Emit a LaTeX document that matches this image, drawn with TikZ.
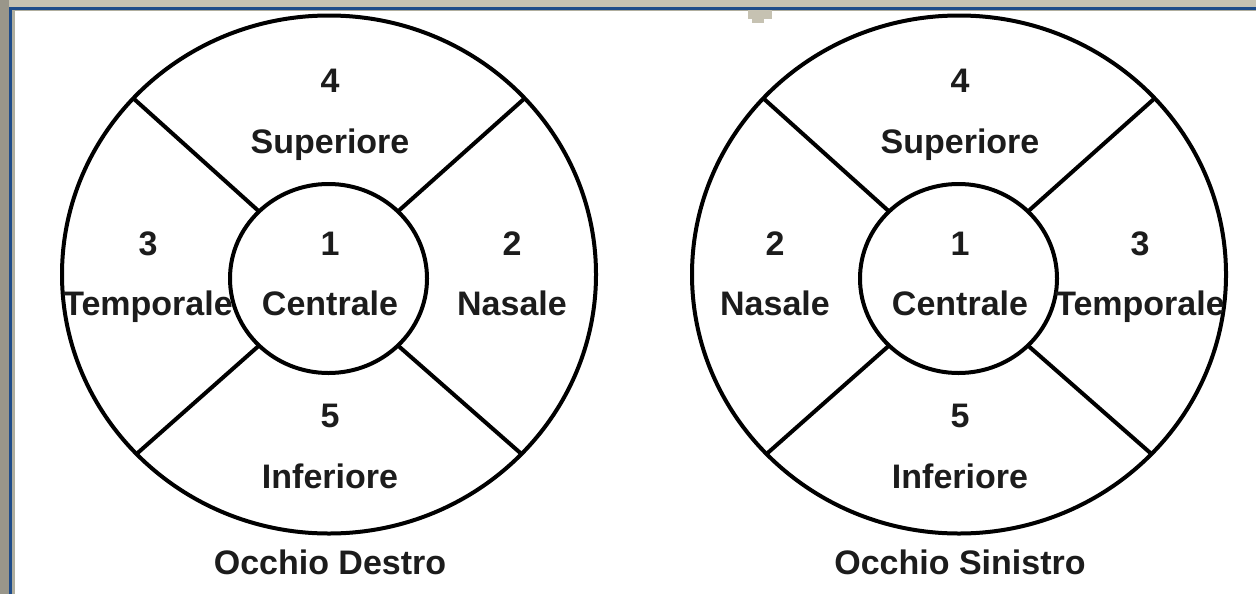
\documentclass[tikz,border=0pt]{standalone}
\usepackage{fontspec}
\setmainfont{Liberation Sans}
\usetikzlibrary{shapes.geometric}
\definecolor{topgray}{HTML}{C6C2B2}
\definecolor{leftgray}{HTML}{99968A}
\definecolor{frameblue}{HTML}{1E4C8A}
\definecolor{thingray}{HTML}{B0AE9E}
\definecolor{inkgray}{HTML}{1C1C1C}
\begin{document}
\begin{tikzpicture}[x=0.5pt,y=-0.5pt,
  ring/.style={draw=black, line width=2pt, ellipse, inner sep=0pt, outer sep=0pt},
  lab/.style={font=\bfseries\fontsize{17}{20}\selectfont, text=inkgray, anchor=base, inner sep=0pt},
  divider/.style={line width=2pt, draw=black}]
\useasboundingbox (0,0) rectangle (1256,594);
\fill[white] (0,0) rectangle (1256,594);
% window frame
\fill[topgray] (0,0) rectangle (1256,7);
\fill[leftgray] (0,0) rectangle (9,594);
\fill[frameblue] (9,7) rectangle (1256,9.5);
\fill[frameblue] (9,7) rectangle (12,594);
\fill[thingray] (12,9.5) rectangle (1256,11);
\fill[thingray] (12,9.5) rectangle (14.5,594);
\fill[topgray] (748,10) rectangle (772,19);
\fill[topgray] (752,19) rectangle (764,23);
% left eye
\node[ring, minimum width=267pt, minimum height=259pt] (RO) at (329,274.5) {};
\node[ring, minimum width=98.5pt, minimum height=94.5pt] (RI) at (328.5,278.5) {};
\foreach \o/\i in {138/136,42/44,223/224,317/316} \draw[divider] (RO.\o) -- (RI.\i);
\node[lab] (r4) at (330,92) {4};
\node[lab] (rsup) at (330,153) {Superiore};
\node[lab] (r3) at (148,255) {3};
\node[lab] (rtem) at (148,315) {Temporale};
\node[lab] (r1) at (330,255) {1};
\node[lab] (rcen) at (330,315) {Centrale};
\node[lab] (r2) at (512,255) {2};
\node[lab] (rnas) at (512,315) {Nasale};
\node[lab] (r5) at (330,427) {5};
\node[lab] (rinf) at (330,488) {Inferiore};
\node[lab] (rtitle) at (330,574) {Occhio Destro};
% right eye
\node[ring, minimum width=267pt, minimum height=259pt] (LO) at (959,274.5) {};
\node[ring, minimum width=98.5pt, minimum height=94.5pt] (LI) at (958.5,278.5) {};
\foreach \o/\i in {138/136,42/44,223/224,317/316} \draw[divider] (LO.\o) -- (LI.\i);
\node[lab] (l4) at (960,92) {4};
\node[lab] (lsup) at (960,153) {Superiore};
\node[lab] (l2) at (775,255) {2};
\node[lab] (lnas) at (775,315) {Nasale};
\node[lab] (l1) at (960,255) {1};
\node[lab] (lcen) at (960,315) {Centrale};
\node[lab] (l3) at (1140,255) {3};
\node[lab] (ltem) at (1140,315) {Temporale};
\node[lab] (l5) at (960,427) {5};
\node[lab] (linf) at (960,488) {Inferiore};
\node[lab] (ltitle) at (960,574) {Occhio Sinistro};
\end{tikzpicture}
\end{document}
